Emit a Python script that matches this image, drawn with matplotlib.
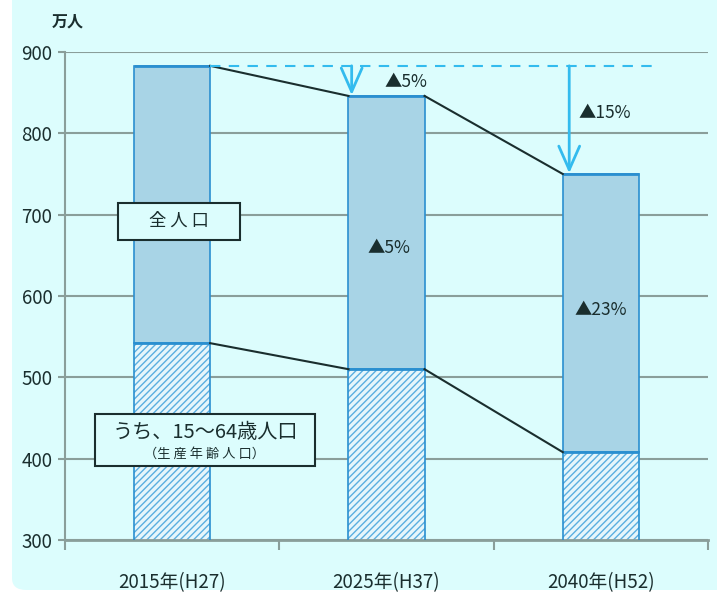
import matplotlib

matplotlib.use("Agg")
import matplotlib.pyplot as plt
from matplotlib.patches import FancyBboxPatch, Rectangle
import numpy as np

plt.rcParams["font.family"] = ["Noto Sans CJK JP", "DejaVu Sans"]

# data
categories = ["2015年(H27)", "2025年(H37)", "2040年(H52)"]
total_pop = [883, 846, 750]
working_pop = [542, 510, 408]
total_change = ["", "▲5%", "▲15%"]
working_change = ["", "▲5%", "▲23%"]
y_ticks = [300, 400, 500, 600, 700, 800, 900]

BG = "#dcfdfd"
GRID = "#8a9e9a"
BAR_TOP = "#a8d4e6"
BAR_EDGE = "#2a8fd0"
HATCH = "#5aaee0"
ARROW = "#33bbee"
DARK = "#1a2e2e"

fig = plt.figure(figsize=(7.17, 5.96), dpi=100)
fig.patch.set_facecolor("white")
fig.patches.append(FancyBboxPatch((12 / 717, 6 / 596), 1.1, 1.1, boxstyle="round,pad=0,rounding_size=0.02",
                                  transform=fig.transFigure, facecolor=BG, edgecolor="none", zorder=-10))

ax = fig.add_axes([65 / 717, 1 - 540 / 596, (708 - 65) / 717, (540 - 52) / 596])
ax.set_facecolor("none")

x = np.arange(len(categories))
w = 0.355

# stacked bars
ax.bar(x, working_pop, width=w, bottom=0, color="#e6f6fb", edgecolor=HATCH, hatch="/////",
       linewidth=0, zorder=2)
ax.bar(x, working_pop, width=w, color="none", edgecolor=BAR_EDGE, linewidth=1.2, zorder=3)
upper = np.array(total_pop) - np.array(working_pop)
ax.bar(x, upper, width=w, bottom=working_pop, color=BAR_TOP, edgecolor=BAR_EDGE, linewidth=1.2, zorder=3)
for xi, tv, wv in zip(x, total_pop, working_pop):
    ax.plot([xi - w / 2, xi + w / 2], [tv, tv], color=BAR_EDGE, lw=2, zorder=4, solid_capstyle="butt")
    ax.plot([xi - w / 2, xi + w / 2], [wv, wv], color=BAR_EDGE, lw=2, zorder=4, solid_capstyle="butt")

# connecting lines
for series in (total_pop, working_pop):
    for i in range(len(series) - 1):
        ax.plot([x[i] + w / 2, x[i + 1] - w / 2], [series[i], series[i + 1]], color=DARK, lw=1.5, zorder=4)

# dashed reference at 2015 level and arrows
ax.plot([x[0] + w / 2, 2.26], [total_pop[0]] * 2, color=ARROW, lw=1.5, ls=(0, (5, 4)), zorder=4)
for i, off in ((1, 0.015), (2, 0.03)):
    ax.annotate("", xy=(x[i] - w / 2 + off, total_pop[i] + 1), xytext=(x[i] - w / 2 + off, total_pop[0]),
                arrowprops=dict(arrowstyle="->,head_length=1.7,head_width=0.75", color=ARROW, lw=2,
                                shrinkA=0, shrinkB=0),
                zorder=5)

# percentage labels
ax.text(1.09, 863, total_change[1], ha="center", va="center", fontsize=12.5, color=DARK, zorder=6)
ax.text(2.02, 825, total_change[2], ha="center", va="center", fontsize=12.5, color=DARK, zorder=6)
ax.text(1.01, 659, working_change[1], ha="center", va="center", fontsize=12.5, color=DARK, zorder=6)
ax.text(2.0, 583, working_change[2], ha="center", va="center", fontsize=12.5, color=DARK, zorder=6)

# legend boxes
ax.add_patch(Rectangle((-0.252, 669), 0.569, 45, facecolor=BG, edgecolor=DARK, lw=1.5, zorder=6))
ax.text(0.032, 692, "全 人 口", ha="center", va="center", fontsize=12.5, color=DARK, zorder=7)
ax.add_patch(Rectangle((-0.36, 391), 1.027, 64, facecolor=BG, edgecolor=DARK, lw=1.5, zorder=6))
ax.text(0.153, 432, "うち、15～64歳人口", ha="center", va="center", fontsize=14.5, color=DARK, zorder=7)
ax.text(0.153, 405, "（生 産 年 齢 人 口）", ha="center", va="center", fontsize=9.5, color=DARK, zorder=7)

# axes styling
ax.set_xlim(-0.5, 2.5)
ax.set_ylim(300, 900)
ax.set_yticks(y_ticks)
ax.set_yticklabels([str(v) for v in y_ticks], fontsize=13.5, color=DARK)
ax.yaxis.grid(True, color=GRID, lw=1.5, zorder=0)
ax.set_axisbelow(True)
ax.set_xticks([-0.5, 0.5, 1.5, 2.5])
ax.set_xticklabels([])
ax.set_xticks(x, minor=True)
ax.set_xticklabels(categories, minor=True, fontsize=13.5, color=DARK)
ax.tick_params(axis="x", which="major", length=7, color=GRID, width=1.5)
ax.tick_params(axis="x", which="minor", length=0, pad=23)
ax.tick_params(axis="y", length=5, color=GRID, width=1.5, pad=4)
for side in ("top", "right"):
    ax.spines[side].set_visible(False)
ax.spines["left"].set_color(GRID)
ax.spines["left"].set_linewidth(1.5)
ax.spines["bottom"].set_color(GRID)
ax.spines["bottom"].set_linewidth(2)

fig.text(68 / 717, 1 - 22 / 596, "万人", ha="center", va="center", fontsize=11.5, color=DARK,
         fontweight="bold")

fig.savefig("out.png", dpi=100)
